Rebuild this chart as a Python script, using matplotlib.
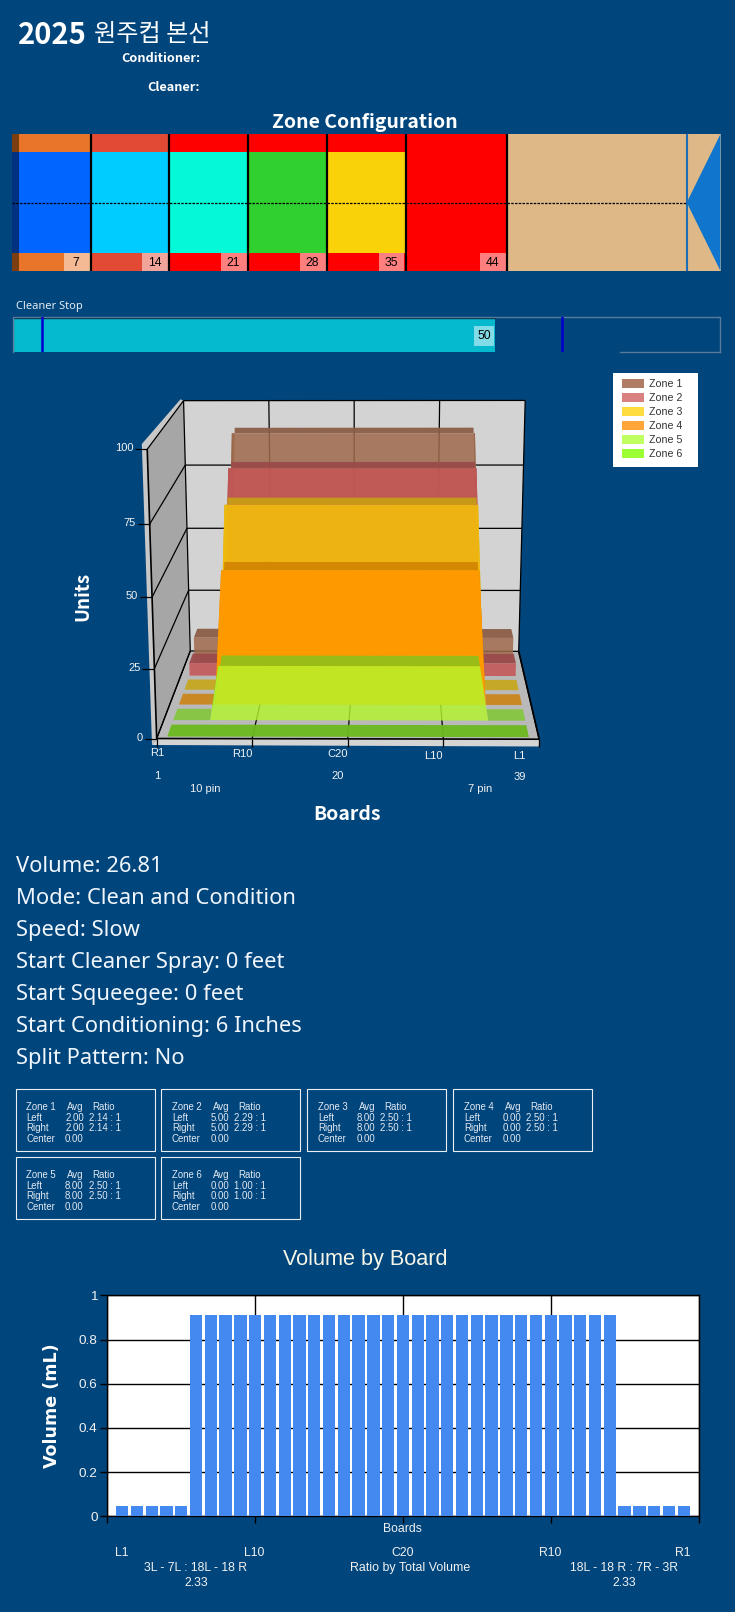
import numpy as np
import matplotlib
matplotlib.use("Agg")
import matplotlib.pyplot as plt
from matplotlib.patches import Polygon, Rectangle

BG = "#00457C"
W, H = 735, 1612

# lane zones (feet)
zone_stops = [7, 14, 21, 28, 35, 44]
zone_outer_colors = ["#E8752A", "#E24A35", "#FF0000", "#FF0000", "#FF0000", "#FF0000"]
zone_inner_colors = ["#0066FF", "#00CCFF", "#05F9D9", "#30D030", "#FAD20A", "#FF0000"]
lane_length = 60
lane_end = 63
cleaner_stop = 50

info_lines = ["Volume: 26.81", "Mode: Clean and Condition", "Speed: Slow",
              "Start Cleaner Spray: 0 feet", "Start Squeegee: 0 feet",
              "Start Conditioning: 6 Inches", "Split Pattern: No"]

zone_names = ["Zone 1", "Zone 2", "Zone 3", "Zone 4", "Zone 5", "Zone 6"]
zone_avg = ["2.00", "5.00", "8.00", "0.00", "8.00", "0.00"]
zone_ratio = ["2.14 : 1", "2.29 : 1", "2.50 : 1", "2.50 : 1", "2.50 : 1", "1.00 : 1"]

# units per board for each zone in the 3D chart
units_z1 = [10, 10, 10, 10, 10, 90, 90, 90, 90, 90, 90, 90, 90, 90, 90, 90, 90, 90, 90, 90,
            90, 90, 90, 90, 90, 90, 90, 90, 90, 90, 90, 90, 90, 90, 10, 10, 10, 10, 10]
units_z2 = [5, 5, 5, 5, 5, 80, 80, 80, 80, 80, 80, 80, 80, 80, 80, 80, 80, 80, 80, 80,
            80, 80, 80, 80, 80, 80, 80, 80, 80, 80, 80, 80, 80, 80, 5, 5, 5, 5, 5]
units_z3 = [0, 0, 0, 0, 0, 70, 70, 70, 70, 70, 70, 70, 70, 70, 70, 70, 70, 70, 70, 70,
            70, 70, 70, 70, 70, 70, 70, 70, 70, 70, 70, 70, 70, 70, 0, 0, 0, 0, 0]
units_z4 = [0, 0, 0, 0, 0, 50, 50, 50, 50, 50, 50, 50, 50, 50, 50, 50, 50, 50, 50, 50,
            50, 50, 50, 50, 50, 50, 50, 50, 50, 50, 50, 50, 50, 50, 0, 0, 0, 0, 0]
units_z5 = [0, 0, 0, 0, 0, 20, 20, 20, 20, 20, 20, 20, 20, 20, 20, 20, 20, 20, 20, 20,
            20, 20, 20, 20, 20, 20, 20, 20, 20, 20, 20, 20, 20, 20, 0, 0, 0, 0, 0]
units_z6 = [0, 0, 0, 0, 0, 0, 0, 0, 0, 0, 0, 0, 0, 0, 0, 0, 0, 0, 0, 0,
            0, 0, 0, 0, 0, 0, 0, 0, 0, 0, 0, 0, 0, 0, 0, 0, 0, 0, 0]
zone_units = [units_z1, units_z2, units_z3, units_z4, units_z5, units_z6]
face_colors = ["#A06A4C", "#C45656", "#F2BC0C", "#FF9900", "#B4F52C", "#7FFF00"]
face_alpha = [0.85, 0.88, 0.92, 1.0, 0.82, 0.0]
top_colors = ["#8B5E48", "#9B4B4B", "#C8A50F", "#CD7D00", "#78C81E", "#6CBA1E"]
top_alpha = [0.95, 0.95, 0.85, 0.8, 0.75, 0.95]
legend_colors = ["#B07C64", "#D98080", "#FFDD40", "#FFA53A", "#BFFF5F", "#9BFF33"]
unit_ticks = [0, 25, 50, 75, 100]

# volume by board
board_volume = [0.047, 0.047, 0.047, 0.047, 0.047, 0.91, 0.91, 0.91, 0.91, 0.91, 0.91, 0.91, 0.91,
                0.91, 0.91, 0.91, 0.91, 0.91, 0.91, 0.91, 0.91, 0.91, 0.91, 0.91, 0.91, 0.91,
                0.91, 0.91, 0.91, 0.91, 0.91, 0.91, 0.91, 0.91, 0.047, 0.047, 0.047, 0.047, 0.047]
volume_ticks = [0, 0.2, 0.4, 0.6, 0.8, 1]
volume_labels = ["0", "0.2", "0.4", "0.6", "0.8", "1"]

fig = plt.figure(figsize=(W / 100, H / 100), dpi=100, facecolor=BG)
page = fig.add_axes([0, 0, 1, 1])
page.set_xlim(0, W)
page.set_ylim(H, 0)
page.axis("off")

SANS = ["Noto Sans", "DejaVu Sans"]
BOLD = ["Noto Sans CJK KR", "DejaVu Sans"]
ARIAL = ["Liberation Sans", "DejaVu Sans"]


def put(x, y, s, size, ha="left", weight="normal", color="white", family=ARIAL, rot=0):
    page.text(x, y, s, fontsize=size, ha=ha, va="center", fontweight=weight, color=color,
              family=family, rotation=rot)


def px_axes(x0, y0, x1, y1):
    return fig.add_axes([x0 / W, 1 - y1 / H, (x1 - x0) / W, (y1 - y0) / H])


# header
page.text(18, 34.5, "2025", fontsize=21, fontweight="bold", color="white", va="center", family=BOLD)
page.text(94, 34, "원주컵 본선", fontsize=17.4, fontweight="medium", color="white", va="center", family=BOLD)
put(200, 58, "Conditioner:", 9.2, ha="right", weight="bold", family=BOLD)
put(200, 87.5, "Cleaner:", 9.2, ha="right", weight="bold", family=BOLD)
put(364.7, 122, "Zone Configuration", 14, ha="center", weight="bold", family=BOLD)

# zone configuration strip
lane = px_axes(12, 134, 720.5, 271)
lane.set_xlim(0, lane_end)
lane.set_ylim(0, 137)
lane.axis("off")
lane.add_patch(Rectangle((0, 0), lane_end, 137, color="#DEB887", lw=0))
left = 0
for stop, outer, inner in zip(zone_stops, zone_outer_colors, zone_inner_colors):
    lane.add_patch(Rectangle((left, 0), stop - left, 137, color=outer, lw=0))
    lane.add_patch(Rectangle((left, 17.7), stop - left, 101.3, color=inner, lw=0))
    lane.plot([stop, stop], [0, 137], color="black", lw=1.6)
    lane.add_patch(Rectangle((stop - 2.4, 0), 2.3, 17.7, color="white", alpha=0.5, lw=0))
    lane.text(stop - 1.3, 8.5, str(stop), fontsize=8.8, ha="center", va="center",
              color="black", family=ARIAL)
    left = stop
lane.add_patch(Rectangle((0, 0), 0.6, 137, color="#7A3E10", lw=0))
lane.add_patch(Rectangle((0, 17.7), 0.6, 101.3, color="#003080", lw=0))
lane.add_patch(Polygon([[lane_length, 68.5], [lane_end, 137], [lane_end, 0]], color="#1075CC", lw=0))
lane.plot([lane_length, lane_length], [0, 137], color="#1F6DB5", lw=1.5)
lane.plot([0, lane_length], [68.5, 68.5], color="black", lw=0.9, ls=(0, (2, 1)))

# cleaner stop
put(16, 306, "Cleaner Stop", 8, color="#E4ECF4", family=SANS)
stop_ax = px_axes(12.7, 316.7, 719.6, 351.7)
stop_ax.set_xlim(-0.1, 73.4)
stop_ax.set_ylim(0, 35)
stop_ax.axis("off")
stop_ax.add_patch(Rectangle((0, 0), cleaner_stop, 33.4, facecolor="#05BACF", edgecolor="none"))
stop_ax.plot([0, cleaner_stop], [33.4, 33.4], color="#062B45", lw=1)
stop_ax.plot([-0.1, -0.1, 73.4, 73.4], [0, 35, 35, 0], color="#5A7A9A", lw=1, clip_on=False)
stop_ax.plot([63, 73.4], [0, 0], color="#5A7A9A", lw=1, clip_on=False)
for pos in [2.9, 57]:
    stop_ax.plot([pos, pos], [0, 35], color="#0000D0", lw=1.8)
stop_ax.add_patch(Rectangle((47.9, 6), 2, 19.7, color="white", alpha=0.5, lw=0))
stop_ax.text(48.9, 16, str(cleaner_stop), fontsize=8.8, ha="center", va="center", color="black",
             family=ARIAL)

# 3D chart: projective camera fitted on the box corners, board 0-39, depth 0-6, units 0-100
box_points = [
    ((0, 0, 0), (156.9, 738.3)), ((0, 0, 25), (154.3, 668.3)), ((0, 0, 50), (151.7, 597.3)),
    ((0, 0, 75), (149.5, 524.3)), ((0, 0, 100), (147.4, 449.3)),
    ((0, 6, 0), (190.4, 651.7)), ((0, 6, 25), (188.7, 590)), ((0, 6, 50), (187, 528)),
    ((0, 6, 75), (185.3, 465)), ((0, 6, 100), (183.5, 400.7)),
    ((39, 6, 0), (518.9, 651.7)), ((39, 6, 25), (520.5, 590)), ((39, 6, 50), (521.9, 528)),
    ((39, 6, 75), (523.2, 465)), ((39, 6, 100), (524.9, 400.7)),
    ((39, 0, 0), (538.7, 739.3)), ((39, 0, 100), (548.5, 449.3)),
]
rows = []
for (b, d, u), (px, py) in box_points:
    X = [b / 39, d / 6, u / 100, 1]
    rows.append(X + [0, 0, 0, 0] + [-px * v for v in X])
    rows.append([0, 0, 0, 0] + X + [-py * v for v in X])
cam = np.linalg.svd(np.array(rows))[2][-1].reshape(3, 4)


def proj(b, d, u):
    q = cam @ np.array([b / 39, d / 6, u / 100, 1])
    return q[0] / q[2], q[1] / q[2]


def poly(pts, color, alpha=1.0, z=2):
    page.add_patch(Polygon(pts, closed=True, facecolor=color, edgecolor="none", alpha=alpha, zorder=z))


def seg(a, b, color="black", lw=1.0, z=3):
    page.plot([a[0], b[0]], [a[1], b[1]], color=color, lw=lw, zorder=z, solid_capstyle="butt")


poly([(141.8, 444), (180.5, 399.3), proj(0, 6, 100), proj(0, 0, 100), proj(0, 0, 0), (152, 745)], "#C8C8C8")
poly([proj(0, 0, 0), proj(0, 0, 100), proj(0, 6, 100), proj(0, 6, 0)], "#A6A6A6")
poly([proj(0, 6, 0), proj(0, 6, 100), proj(39, 6, 100), proj(39, 6, 0)], "#D3D3D3")
poly([proj(0, 0, 0), proj(0, 6, 0), proj(39, 6, 0), proj(39, 0, 0)], "#B9B9B9")
poly([proj(0, 0, 0), proj(39, 0, 0), (538.7, 746.5), (152, 745)], "#D4D4D4")

for t in unit_ticks:
    seg(proj(0, 0, t), proj(0, 6, t), lw=0.9)
    seg(proj(0, 6, t), proj(39, 6, t), lw=0.9)
    fx, fy = proj(0, 0, t)
    seg((fx - 12, fy), (fx, fy), lw=0.9)
    put(fx - 14, fy - 1, str(t), 8, ha="right", color="#F2F2F2")
for b in [0, 9.75, 19.5, 29.25, 39]:
    seg(proj(b, 0, 0), proj(b, 6, 0), lw=0.9)
    seg(proj(b, 6, 0), proj(b, 6, 100), lw=0.9)
    fx, fy = proj(b, 0, 0)
    seg((fx, fy), (fx, fy + 8), lw=0.9)
seg(proj(0, 0, 0), proj(0, 0, 100), lw=1.2)
seg(proj(0, 0, 0), proj(39, 0, 0), lw=1.2)
seg(proj(39, 0, 0), proj(39, 6, 0), lw=1.2)

# slabs, back to front
for i, values in enumerate(zone_units):
    d0 = (5 - i) + 0.12
    d1 = d0 + 0.72
    xs = [1 + k * 37 / 38 for k in range(len(values))]
    base = [proj(xs[0], d0, 0)] + [proj(x, d0, v) for x, v in zip(xs, values)] + [proj(xs[-1], d0, 0)]
    top = [proj(x, d0, v) for x, v in zip(xs, values)] + [proj(x, d1, v) for x, v in reversed(list(zip(xs, values)))]
    poly(top, top_colors[i], top_alpha[i], z=4 + i)
    if face_alpha[i] > 0:
        poly(base, face_colors[i], face_alpha[i], z=4 + i)

put(156.9, 753.3, "R1", 8, ha="center", color="#F2F2F2")
put(242, 754.3, "R10", 8, ha="center", color="#F2F2F2")
put(337.2, 754.3, "C20", 8, ha="center", color="#F2F2F2")
put(433.2, 755.7, "L10", 8, ha="center", color="#F2F2F2")
put(519.3, 755.7, "L1", 8, ha="center", color="#F2F2F2")
put(156.9, 775.7, "1", 8, ha="center", color="#F2F2F2")
put(338, 775.7, "20", 8, ha="center", color="#F2F2F2")
put(519.3, 776.7, "39", 8, ha="center", color="#F2F2F2")
put(205, 789, "10 pin", 8, ha="center", color="#F2F2F2")
put(480, 789, "7 pin", 8, ha="center", color="#F2F2F2")
put(347, 815, "Boards", 14, ha="center", weight="bold", family=BOLD)
put(82.4, 596, "Units", 13.6, ha="center", weight="bold", family=BOLD, rot=90)

# legend
page.add_patch(Rectangle((613, 372.7), 85, 94, facecolor="white", edgecolor="none"))
for i, name in enumerate(zone_names):
    yc = 383.7 + i * 14
    page.add_patch(Rectangle((622, yc - 4.4), 22, 8.8, facecolor=legend_colors[i], edgecolor="none"))
    put(649, yc, name, 7.7, color="#333333")

# settings text
for i, line in enumerate(info_lines):
    put(16, 866.5 + i * 32, line, 15.8, color="#F0F6FC", family=SANS)

# zone boxes
box_x = [15.6, 161.5, 307.4, 453.3, 15.6, 161.5]
box_y = [1089.3, 1089.3, 1089.3, 1089.3, 1157.3, 1157.3]
for i, name in enumerate(zone_names):
    x, y = box_x[i], box_y[i]
    page.add_patch(Rectangle((x, y), 139, 61.4, facecolor="none", edgecolor="#EAF0F6", lw=0.8))
    fs = 6.9
    col = "#E4EAF2"
    put(x + 10.5, y + 17.4, name, fs, color=col)
    put(x + 51.5, y + 17.4, "Avg", fs, color=col)
    put(x + 76.5, y + 17.4, "Ratio", fs, color=col)
    put(x + 10.5, y + 28.4, "Left", fs, color=col)
    put(x + 10.5, y + 38.4, "Right", fs, color=col)
    put(x + 10.5, y + 49.4, "Center", fs, color=col)
    put(x + 49.5, y + 28.4, zone_avg[i], fs, color=col)
    put(x + 49.5, y + 38.4, zone_avg[i], fs, color=col)
    put(x + 49.5, y + 49.4, "0.00", fs, color=col)
    put(x + 73, y + 28.4, zone_ratio[i], fs, color=col)
    put(x + 73, y + 38.4, zone_ratio[i], fs, color=col)

# volume by board
put(365.7, 1260, "Volume by Board", 15.6, ha="center", color="#F6F6E8")
ax = px_axes(107.4, 1295.3, 698.5, 1516.3)
ax.set_facecolor("white")
ax.bar(range(1, len(board_volume) + 1), board_volume, width=0.84, color="#4389F0", zorder=3)
ax.set_xlim(0, 40)
ax.set_ylim(0, 1)
ax.set_yticks(volume_ticks)
ax.set_yticklabels(volume_labels, fontsize=9.7, color="#F2F2F2", family=ARIAL)
ax.set_xticks([0, 10, 20, 30, 40])
ax.set_xticklabels([])
ax.grid(True, color="black", lw=1, zorder=1)
ax.tick_params(axis="both", color="black", length=5, width=1, pad=2)
for s in ax.spines.values():
    s.set_linewidth(1)
    s.set_color("black")
put(51.6, 1405.7, "Volume (mL)", 12.6, ha="center", weight="bold",
    family=["DejaVu Sans"], rot=90)

put(402.7, 1528.7, "Boards", 8.8, ha="center", color="#F2F2F2")
put(121.4, 1552.7, "L1", 8.8, ha="center", color="#F2F2F2")
put(254.6, 1552.7, "L10", 8.8, ha="center", color="#F2F2F2")
put(402.7, 1552.7, "C20", 8.8, ha="center", color="#F2F2F2")
put(550.4, 1552.7, "R10", 8.8, ha="center", color="#F2F2F2")
put(683, 1552.7, "R1", 8.8, ha="center", color="#F2F2F2")
put(196, 1568, "3L - 7L : 18L - 18 R", 8.8, ha="center", color="#F2F2F2")
put(410, 1568, "Ratio by Total Volume", 8.9, ha="center", color="#F2F2F2")
put(624, 1568, "18L - 18 R : 7R - 3R", 8.8, ha="center", color="#F2F2F2")
put(196, 1582.7, "2.33", 8.8, ha="center", color="#F2F2F2")
put(624, 1582.7, "2.33", 8.8, ha="center", color="#F2F2F2")

fig.savefig("out.png", dpi=100, facecolor=BG)
